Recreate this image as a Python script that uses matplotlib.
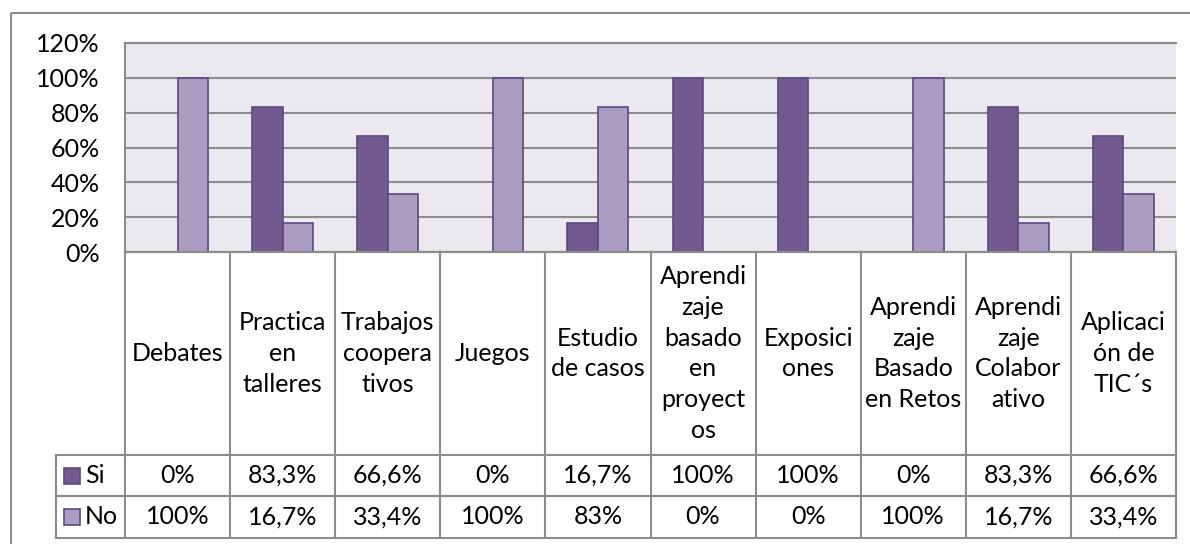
import numpy as np
import matplotlib
matplotlib.use("Agg")
import matplotlib.pyplot as plt
from matplotlib.patches import Rectangle
from matplotlib.ticker import FuncFormatter

# data
categorias = ["Debates", "Practica\nen\ntalleres", "Trabajos\ncoopera\ntivos", "Juegos",
              "Estudio\nde casos", "Aprendi\nzaje\nbasado\nen\nproyect\nos", "Exposici\nones",
              "Aprendi\nzaje\nBasado\nen Retos", "Aprendi\nzaje\nColabor\nativo", "Aplicaci\nón de\nTIC´s"]
si = [0, 83.3, 66.6, 0, 16.7, 100, 100, 0, 83.3, 66.6]
no = [100, 16.7, 33.4, 100, 83, 0, 0, 100, 16.7, 33.4]
series = ["Si", "No"]
yticks = [0, 20, 40, 60, 80, 100, 120]

col_si = "#725A8F"
col_no = "#AB9CC1"
col_edge = "#5E4680"
col_line = "#8C8C8C"

plt.rcParams["font.family"] = ["Lato", "DejaVu Sans"]
plt.rcParams["font.size"] = 18

W, H = 1190, 544
fig = plt.figure(figsize=(W / 100, H / 100), dpi=100)

# layout in pixels
left, right = 125, 1176
top, base = 43, 252
row_si, row_no, bottom = 455, 496, 538
leg_left = 56
n = len(categorias)
colw = (right - left) / n

ax = fig.add_axes([left / W, 1 - base / H, (right - left) / W, (base - top) / H])
ax.set_facecolor("#EBE8EF")
x = np.arange(n)
w = 0.29
ax.bar(x - w / 2, np.array(si) / 100, w, color=col_si, edgecolor=col_edge, linewidth=1.2, zorder=3)
ax.bar(x + w / 2, np.array(no) / 100, w, color=col_no, edgecolor=col_edge, linewidth=1.2, zorder=3)
ax.set_xlim(-0.5, n - 0.5)
ax.set_ylim(0, 1.2)
ax.set_yticks(np.array(yticks) / 100)
ax.yaxis.set_major_formatter(FuncFormatter(lambda v, p: f"{v * 100:.0f}%"))
ax.tick_params(axis="y", length=0, pad=18)
ax.set_xticks([])
ax.grid(axis="y", color=col_line, linewidth=1.5, zorder=1)
ax.spines["right"].set_visible(False)
for s in ["left", "bottom", "top"]:
    ax.spines[s].set_color(col_line)
    ax.spines[s].set_linewidth(1.5)

# overlay for the data table and the outer frame
ov = fig.add_axes([0, 0, 1, 1])
ov.set_xlim(0, W)
ov.set_ylim(H, 0)
ov.axis("off")
ov.add_patch(Rectangle((11, 13), W, H, fill=False, edgecolor=col_line, linewidth=1.5))

lkw = dict(color=col_line, linewidth=1.5)
ov.plot([left, right], [base, base], **lkw)
for yy in [row_si, row_no, bottom]:
    ov.plot([leg_left, right], [yy, yy], **lkw)
ov.plot([leg_left, leg_left], [row_si, bottom], **lkw)
for k in range(n + 1):
    ov.plot([left + k * colw] * 2, [base, bottom], **lkw)


def fmt(v):
    return f"{v:g}".replace(".", ",") + "%"


for i, cat in enumerate(categorias):
    cx = left + (i + 0.5) * colw
    ov.text(cx, (base + row_si) / 2, cat, ha="center", va="center", linespacing=1.4)
    ov.text(cx, (row_si + row_no) / 2, fmt(si[i]), ha="center", va="center")
    ov.text(cx, (row_no + bottom) / 2, fmt(no[i]), ha="center", va="center")

for name, col, y0, y1 in [(series[0], col_si, row_si, row_no), (series[1], col_no, row_no, bottom)]:
    cy = (y0 + y1) / 2
    ov.add_patch(Rectangle((64, cy - 8), 16, 16, facecolor=col, edgecolor=col_edge, linewidth=1.2))
    ov.text(85, cy, name, ha="left", va="center")

fig.savefig("out.png", dpi=100)
